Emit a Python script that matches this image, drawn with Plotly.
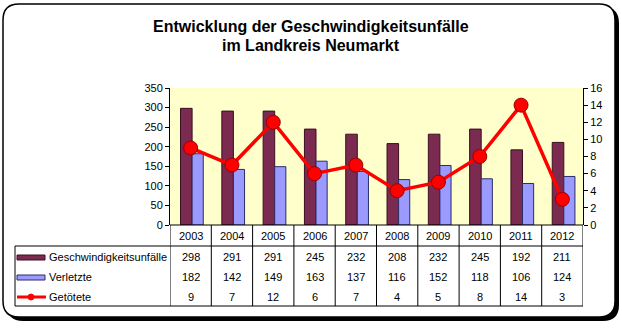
import plotly.graph_objects as go

years = ["2003", "2004", "2005", "2006", "2007", "2008", "2009", "2010", "2011", "2012"]
unfaelle = [298, 291, 291, 245, 232, 208, 232, 245, 192, 211]
verletzte = [182, 142, 149, 163, 137, 116, 152, 118, 106, 124]
getoetete = [9, 7, 12, 6, 7, 4, 5, 8, 14, 3]
series_names = ["Geschwindigkeitsunfälle", "Verletzte", "Getötete"]
title_lines = ["Entwicklung der Geschwindigkeitsunfälle", "im Landkreis Neumarkt"]

W, H = 622, 328
L, R, T, B = 170, 583, 88, 225  # plot area in pixels


def xp(x):
    return (x - L) / (R - L)


def yp(y):
    return (B - y) / (B - T)


MAROON = "#7b2a50"
BLUE = "#9b9bff"
RED = "#ff0000"
FONT = "Liberation Sans, Arial, sans-serif"

fig = go.Figure()
fig.add_trace(go.Bar(x=years, y=unfaelle, name=series_names[0], marker=dict(color=MAROON, line=dict(color="#3a0f22", width=1)),
                     width=0.28, offset=-0.245))
fig.add_trace(go.Bar(x=years, y=verletzte, name=series_names[1], marker=dict(color=BLUE, line=dict(color="#2c2c66", width=1)),
                     width=0.27, offset=0.035))
fig.add_trace(go.Scatter(x=years, y=getoetete, name=series_names[2], yaxis="y2", mode="lines+markers",
                         line=dict(color=RED, width=3.5), marker=dict(color=RED, size=14, line=dict(color="#990000", width=1))))

shapes = []


def rrect(x0, y0, x1, y1, r):
    X0, X1 = xp(x0), xp(x1)
    Y0, Y1 = yp(y0), yp(y1)
    rx = r / (R - L)
    ry = r / (B - T)
    return (f"M {X0+rx},{Y0} L {X1-rx},{Y0} Q {X1},{Y0} {X1},{Y0-ry} "
            f"L {X1},{Y1+ry} Q {X1},{Y1} {X1-rx},{Y1} L {X0+rx},{Y1} "
            f"Q {X0},{Y1} {X0},{Y1+ry} L {X0},{Y0-ry} Q {X0},{Y0} {X0+rx},{Y0} Z")


shapes.append(dict(type="path", path=rrect(7, 7, 619, 321, 16), xref="paper", yref="paper",
                   fillcolor="black", line=dict(width=0), layer="below"))
shapes.append(dict(type="path", path=rrect(3, 4, 615, 317, 16), xref="paper", yref="paper",
                   fillcolor="white", line=dict(color="black", width=1.5), layer="below"))
shapes.append(dict(type="rect", x0=0, x1=1, y0=0, y1=1, xref="paper", yref="paper",
                   fillcolor="#ffffcc", line=dict(width=0), layer="below"))

LINE = dict(color="black", width=1)
shapes.append(dict(type="line", xref="paper", yref="paper", x0=0, x1=1, y0=yp(225), y1=yp(225), line=LINE))
shapes.append(dict(type="line", xref="paper", yref="paper", x0=xp(15), x1=1, y0=yp(246), y1=yp(246), line=LINE))
shapes.append(dict(type="line", xref="paper", yref="paper", x0=xp(15), x1=1, y0=yp(306), y1=yp(306), line=LINE))
shapes.append(dict(type="line", xref="paper", yref="paper", x0=xp(15), x1=xp(15), y0=yp(246), y1=yp(306), line=LINE))
for i in range(len(years) + 1):
    shapes.append(dict(type="line", xref="x", yref="paper", x0=i - 0.5, x1=i - 0.5, y0=yp(225), y1=yp(306), line=LINE))

shapes.append(dict(type="rect", xref="paper", yref="paper", x0=xp(17), x1=xp(45), y0=yp(255), y1=yp(260),
                   fillcolor=MAROON, line=dict(color="#3a0f22", width=1)))
shapes.append(dict(type="rect", xref="paper", yref="paper", x0=xp(17), x1=xp(45), y0=yp(275), y1=yp(280),
                   fillcolor=BLUE, line=dict(color="#2c2c66", width=1)))
shapes.append(dict(type="line", xref="paper", yref="paper", x0=xp(17), x1=xp(46), y0=yp(297), y1=yp(297),
                   line=dict(color=RED, width=3)))
shapes.append(dict(type="circle", xref="paper", yref="paper", x0=xp(28), x1=xp(34), y0=yp(294), y1=yp(300),
                   fillcolor=RED, line=dict(color=RED, width=1)))

ann = []
tf = dict(family=FONT, size=11, color="black")
for i, yr in enumerate(years):
    ann.append(dict(x=i, y=yp(236), xref="x", yref="paper", text=yr, showarrow=False, font=tf,
                    xanchor="center", yanchor="middle"))
    for row, vals in enumerate([unfaelle, verletzte, getoetete]):
        ann.append(dict(x=i, y=yp(257 + 20 * row), xref="x", yref="paper", text=str(vals[i]),
                        showarrow=False, font=tf, xanchor="center", yanchor="middle"))
for row, name in enumerate(series_names):
    ann.append(dict(x=xp(47), y=yp(257 + 20 * row), xref="paper", yref="paper", text=name,
                    showarrow=False, xanchor="left", yanchor="middle", font=tf))
for k, line in enumerate(title_lines):
    ann.append(dict(x=xp(311), y=yp(26 + 20 * k), xref="paper", yref="paper", text=f"<b>{line}</b>",
                    showarrow=False, xanchor="center", yanchor="middle",
                    font=dict(family=FONT, size=16, color="black")))

fig.update_layout(
    width=W, height=H,
    margin=dict(l=L, r=W - R, t=T, b=H - B, pad=0),
    paper_bgcolor="white", plot_bgcolor="rgba(0,0,0,0)",
    showlegend=False,
    barmode="group",
    font=dict(family=FONT, size=11, color="black"),
    xaxis=dict(type="category", range=[-0.5, len(years) - 0.5], showticklabels=False, ticks="",
               showgrid=False, zeroline=False, showline=False),
    yaxis=dict(range=[0, 350], dtick=50, tick0=0, showgrid=False, zeroline=False, showline=True,
               linecolor="black", linewidth=1, ticks="outside", ticklen=4, tickcolor="black",
               tickfont=dict(family=FONT, size=11, color="black")),
    yaxis2=dict(range=[0, 16], dtick=2, tick0=0, overlaying="y", side="right", showgrid=False,
                zeroline=False, showline=True, linecolor="black", linewidth=1, ticks="outside",
                ticklen=4, tickcolor="black", tickfont=dict(family=FONT, size=11, color="black")),
    shapes=shapes,
    annotations=ann,
)

fig.write_html("out.html")
